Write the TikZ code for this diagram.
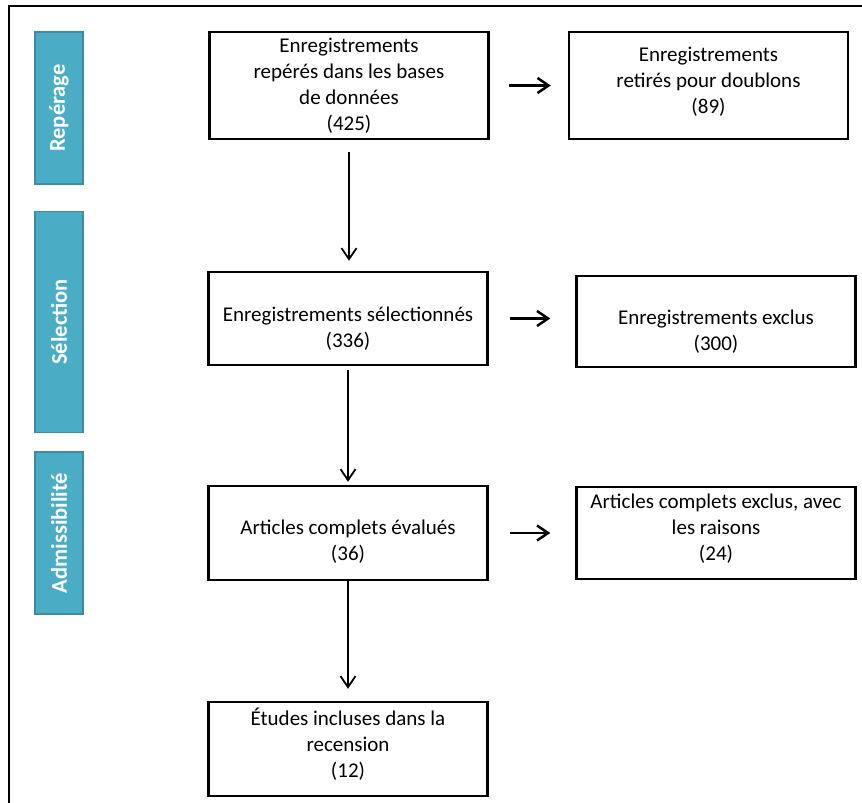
\documentclass[tikz,border=0pt]{standalone}
\usepackage{fontspec}
\setmainfont{Carlito}
\usetikzlibrary{arrows.meta}
\definecolor{bleu}{HTML}{4BACC6}
\definecolor{bleufonce}{HTML}{3B8CA3}

\begin{document}
\begin{tikzpicture}[x=1pt,y=-1pt,>={Straight Barb[length=11pt,width=15pt]},
		boite/.style={draw,line width=2.5pt,minimum width=279pt,align=center,font=\fontsize{21}{26}\selectfont},
		etape/.style={draw=bleufonce,fill=bleu,line width=1.5pt,minimum height=48pt,rotate=90,text=white,font=\fontsize{22.5}{26}\selectfont\bfseries},
		fleche/.style={line width=1.8pt,->}]
		\path[use as bounding box,clip] (0,0) rectangle (862,803);
		\draw[line width=1.5pt] (9,830) -- (9,6) -- (890,6);
		\node[etape,minimum width=152pt] (reperage) at (59,108) {Repérage};
		\node[etape,minimum width=221pt] (selectionbar) at (59,322) {Sélection};
		\node[etape,minimum width=162pt] (admissibilite) at (59,533) {Admissibilité};
		\node[boite,minimum height=107pt] (repere) at (349,85.5) {Enregistrements\\repérés dans les bases\\de données\\(425)};
		\node[boite,minimum height=107pt] (doublons) at (708.5,85.5) {Enregistrements\\retirés pour doublons\\(89)\rule[-10pt]{0pt}{10pt}};
		\node[boite,minimum height=93pt] (selection) at (348,318.5) {\rule{0pt}{34pt}Enregistrements sélectionnés\\(336)};
		\node[boite,minimum height=91pt] (exclus) at (716,321.5) {\rule{0pt}{35pt}Enregistrements exclus\\(300)};
		\node[boite,minimum height=94pt] (evalues) at (348,533) {\rule{0pt}{32pt}Articles complets évalués\\(36)};
		\node[boite,minimum height=92pt] (articlesexclus) at (716,533) {Articles complets exclus, avec\\les raisons\\(24)\rule[-12pt]{0pt}{12pt}};
		\node[boite,minimum height=94pt] (etudes) at (348,749) {Études incluses dans la\\recension\\(12)\rule[-12pt]{0pt}{12pt}};
		\draw[fleche,line width=2.5pt,shorten <=19pt,shorten >=17pt] (repere.east) -- (doublons.west);
		\draw[fleche,line width=2.5pt,shorten <=21pt,shorten >=25pt] (selection.east) -- (selection.east -| exclus.west);
		\draw[fleche,line width=2.5pt,shorten <=21pt,shorten >=25pt] (evalues.east) -- (articlesexclus.west);
		\draw[fleche,shorten <=12pt,shorten >=10pt] (repere.south) -- (repere.south |- selection.north);
		\draw[fleche,shorten <=4pt,shorten >=3pt] (selection) -- (evalues);
		\draw[fleche,shorten >=12pt] (evalues) -- (etudes);
	\end{tikzpicture}
\end{document}
